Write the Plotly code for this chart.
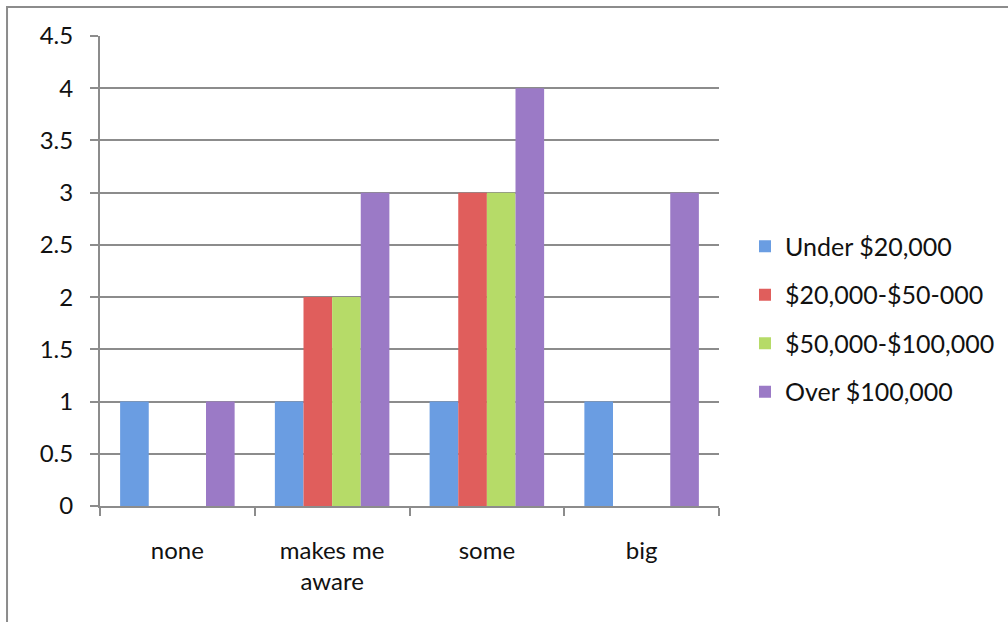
import plotly.graph_objects as go

categories = ["none", "makes me<br>aware", "some", "big"]
series_names = ["Under $20,000", "$20,000-$50-000", "$50,000-$100,000", "Over $100,000"]
under_20k = [1, 1, 1, 1]
k20_50 = [0, 2, 3, 0]
k50_100 = [0, 2, 3, 0]
over_100k = [1, 3, 4, 3]
y_ticks = [0, 0.5, 1, 1.5, 2, 2.5, 3, 3.5, 4, 4.5]
y_tick_labels = ["0", "0.5", "1", "1.5", "2", "2.5", "3", "3.5", "4", "4.5"]

colors = ["#6A9DE2", "#E05E5C", "#B6DB68", "#9B7AC6"]
values = [under_20k, k20_50, k50_100, over_100k]

FONT = "Lato, 'Open Sans', sans-serif"
GRID = "#8C8C8C"

fig = go.Figure()
for i, (name, vals) in enumerate(zip(series_names, values)):
    fig.add_trace(go.Bar(
        x=categories, y=vals, name=name,
        marker=dict(color=colors[i], line=dict(width=0)),
        legendgroup=f"g{i}",
    ))

fig.update_layout(
    width=1008, height=622,
    margin=dict(l=100, r=289, t=36, b=116, autoexpand=False),
    paper_bgcolor="white", plot_bgcolor="white",
    barmode="group", bargap=0.26, bargroupgap=0,
    font=dict(family=FONT, size=24, color="#111111"),
    legend=dict(
        x=1.042, y=0.398, xanchor="left", yanchor="middle",
        traceorder="grouped", tracegroupgap=13,
        font=dict(family=FONT, size=25, color="#111111"),
        bgcolor="rgba(0,0,0,0)",
    ),
    showlegend=True,
    shapes=[dict(type="rect", xref="paper", yref="paper",
                 x0=-0.1502, x1=1.6, y0=-0.4, y1=1.0617,
                 line=dict(color="#8C8C8C", width=2), layer="below")],
)

fig.update_xaxes(
    showline=True, linecolor=GRID, linewidth=2,
    ticks="outside", ticklen=8, tickwidth=2, tickcolor=GRID,
    tickson="boundaries", showgrid=False,
    ticklabelstandoff=22,
)
fig.update_yaxes(
    range=[0, 4.5], tickvals=y_ticks, ticktext=y_tick_labels,
    showline=True, linecolor=GRID, linewidth=2,
    ticks="outside", ticklen=8, tickwidth=2, tickcolor=GRID,
    showgrid=True, gridcolor=GRID, gridwidth=2,
    zeroline=False, ticklabelstandoff=12,
)

fig.write_html("out.html")
